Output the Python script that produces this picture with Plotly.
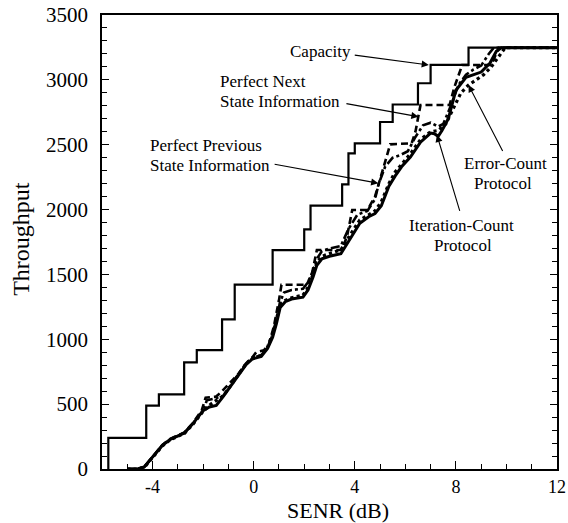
import plotly.graph_objects as go

# ---------------- data ----------------
cap_x = [-5.75, -5.75, -4.25, -3.75, -2.75, -2.25, -1.25, -0.75, 0.75, 2.0, 2.25, 3.5, 3.75, 4.0, 5.0, 5.5, 6.5, 7.0, 8.5, 12]
cap_y = [0, 240, 488, 576, 822, 917, 1154, 1421, 1688, 1848, 2030, 2195, 2434, 2511, 2675, 2810, 2974, 3115, 3248, 3248]

it_x = [-5.0, -4.6, -4.33, -4.0, -3.6, -3.3, -3.0, -2.74, -2.4, -2.0, -1.75, -1.48, -1.2, -0.9, -0.6, -0.3, -0.05, 0.3, 0.55, 0.75, 0.9,
        1.05, 1.25, 1.5, 1.95, 2.15, 2.35, 2.5, 2.7, 3.0, 3.45, 3.8, 4.2, 4.55, 4.8, 5.05, 5.35, 5.6, 5.85, 6.2, 6.6, 7.0, 7.15, 7.3,
        7.45, 7.7, 8.0, 8.4, 8.7, 9.0, 9.35, 9.6, 9.8, 12]
it_y = [0, 0, 15, 90, 185, 228, 252, 278, 350, 450, 478, 490, 560, 640, 725, 805, 848, 868, 930, 1015, 1120,
        1245, 1290, 1310, 1325, 1380, 1480, 1570, 1620, 1640, 1660, 1770, 1895, 1945, 1970, 2030, 2180, 2260, 2330, 2405, 2520, 2590, 2585, 2565,
        2610, 2700, 2920, 3020, 3040, 3060, 3130, 3220, 3248, 3248]

pn_x = [-5.0, -4.6, -4.33, -4.0, -3.6, -3.3, -3.0, -2.74, -2.4, -2.05, -1.9, -1.5, -1.3, -1.0, -0.6, -0.3, -0.05, 0.1, 0.4, 0.6, 0.8, 1.0,
        1.1, 2.1, 2.3, 2.5, 3.5, 3.7, 3.9, 4.5, 4.8, 5.1, 5.4, 6.25, 6.4, 6.6, 7.75, 7.95, 8.25, 9.4, 9.7, 12]
pn_y = [0, 0, 15, 95, 188, 232, 256, 282, 355, 455, 550, 557, 590, 650, 735, 815, 862, 900, 915, 960, 1100, 1300,
        1421, 1421, 1500, 1688, 1688, 1800, 1997, 1997, 2100, 2300, 2503, 2511, 2600, 2806, 2806, 2950, 3115, 3115, 3248, 3248]

pp_x = [-5.0, -4.6, -4.33, -4.0, -3.6, -3.3, -3.0, -2.74, -2.4, -2.0, -1.85, -1.5, -1.2, -0.9, -0.6, -0.3, -0.05, 0.3, 0.55, 0.75, 0.9,
        1.05, 1.2, 1.5, 1.95, 2.15, 2.35, 2.5, 2.7, 3.0, 3.45, 3.75, 4.1, 4.5, 4.8, 4.95, 5.2, 5.5, 5.8, 6.1, 6.4, 6.7, 7.0, 7.3, 7.5,
        7.8, 8.1, 8.4, 8.7, 9.0, 9.3, 9.5, 12]
pp_y = [0, 0, 15, 92, 186, 230, 254, 280, 352, 450, 530, 545, 565, 645, 730, 810, 855, 878, 935, 1035, 1160,
        1290, 1360, 1380, 1390, 1440, 1530, 1620, 1680, 1700, 1720, 1850, 1960, 1990, 2080, 2200, 2330, 2400, 2420, 2450, 2560, 2650, 2670, 2640, 2660,
        2800, 2960, 3040, 3080, 3110, 3200, 3248, 3248]

ec_x = [-5.0, -4.6, -4.33, -4.0, -3.6, -3.3, -3.0, -2.74, -2.4, -2.0, -1.7, -1.48, -1.2, -0.9, -0.6, -0.3, -0.05, 0.3, 0.55, 0.75, 0.9,
        1.05, 1.25, 1.5, 1.95, 2.15, 2.35, 2.5, 2.7, 3.0, 3.45, 3.8, 4.2, 4.55, 4.8, 5.05, 5.35, 5.6, 5.85, 6.2, 6.6, 7.0, 7.3, 7.6,
        7.9, 8.2, 8.5, 8.8, 9.1, 9.4, 9.7, 9.95, 12]
ec_y = [0, 0, 12, 86, 180, 225, 250, 275, 345, 445, 500, 530, 565, 645, 728, 812, 855, 875, 940, 1040, 1150,
        1270, 1300, 1320, 1340, 1400, 1500, 1590, 1640, 1660, 1690, 1800, 1920, 1960, 1990, 2060, 2200, 2290, 2350, 2430, 2540, 2600, 2610, 2660,
        2780, 2900, 2960, 3000, 3040, 3100, 3180, 3248, 3248]

x_tickvals = [-4, 0, 4, 8, 12]
x_ticktext = ["-4", "0", "4", "8", "12"]
y_tickvals = [0, 500, 1000, 1500, 2000, 2500, 3000, 3500]
y_ticktext = [str(v) for v in y_tickvals]

FONT = "Liberation Serif, Times New Roman, serif"
ANN_SIZE = 17

fig = go.Figure()
fig.add_trace(go.Scatter(x=cap_x, y=cap_y, mode="lines", line=dict(color="black", width=2.2, shape="hv"), name="Capacity"))
fig.add_trace(go.Scatter(x=pn_x, y=pn_y, mode="lines", line=dict(color="black", width=2.6, dash="7px,4px"), name="Perfect Next"))
fig.add_trace(go.Scatter(x=pp_x, y=pp_y, mode="lines", line=dict(color="black", width=2.6, dash="dashdot"), name="Perfect Previous"))
fig.add_trace(go.Scatter(x=ec_x, y=ec_y, mode="lines", line=dict(color="black", width=3.2, dash="dot"), name="Error-Count"))
fig.add_trace(go.Scatter(x=it_x, y=it_y, mode="lines", line=dict(color="black", width=3.0), name="Iteration-Count"))

ann = []
def txt(x, y, s, xanchor="left"):
    ann.append(dict(x=x, y=y, xref="x", yref="y", text=s, showarrow=False, xanchor=xanchor, yanchor="middle",
                    font=dict(family=FONT, size=ANN_SIZE, color="black")))

def arrow(tx, ty, hx, hy):
    ann.append(dict(x=hx, y=hy, ax=tx, ay=ty, xref="x", yref="y", axref="x", ayref="y", text="", showarrow=True,
                    arrowhead=2, arrowsize=1.3, arrowwidth=1.1, arrowcolor="black", standoff=0, startstandoff=0))

txt(2.66, 3215, "Capacity", "center")
arrow(3.94, 3192, 6.93, 3115)
txt(-1.41, 2986, "Perfect Next")
txt(-1.41, 2832, "State Information")
arrow(3.61, 2819, 6.52, 2716)
txt(-4.18, 2494, "Perfect Previous")
txt(-4.18, 2340, "State Information")
arrow(0.77, 2351, 4.93, 2203)
txt(9.98, 2352, "Error-Count", "center")
txt(9.88, 2198, "Protocol", "center")
arrow(9.88, 2440, 8.50, 2960)
txt(8.24, 1879, "Iteration-Count", "center")
txt(8.27, 1725, "Protocol", "center")
arrow(8.17, 1978, 7.25, 2575)

# axis titles
ann.append(dict(x=0.518, y=-0.092, xref="paper", yref="paper", text="SENR (dB)", showarrow=False,
                xanchor="center", yanchor="middle", font=dict(family=FONT, size=22, color="black")))
ann.append(dict(x=-0.178, y=0.507, xref="paper", yref="paper", text="Throughput", showarrow=False, textangle=-90,
                xanchor="center", yanchor="middle", font=dict(family=FONT, size=24, color="black")))

fig.update_layout(
    width=568, height=523,
    margin=dict(l=102, r=11, t=15, b=54, autoexpand=False),
    paper_bgcolor="white", plot_bgcolor="white",
    showlegend=False,
    annotations=ann,
    font=dict(family=FONT, color="black"),
)
fig.update_xaxes(range=[-6, 12], tickmode="array", tickvals=x_tickvals, ticktext=x_ticktext,
                 ticks="inside", ticklen=8, tickwidth=1.2, tickcolor="black",
                 minor=dict(tickmode="linear", tick0=-6, dtick=1, ticks="inside", ticklen=5, tickwidth=1.2, tickcolor="black"),
                 showline=True, linecolor="black", linewidth=1.8, mirror=True,
                 showgrid=False, zeroline=False, tickfont=dict(family=FONT, size=18, color="black"),
                 ticklabelstandoff=0)
fig.update_yaxes(range=[0, 3500], tickmode="array", tickvals=y_tickvals, ticktext=y_ticktext,
                 ticks="inside", ticklen=7, tickwidth=1.2, tickcolor="black",
                 minor=dict(tickmode="linear", tick0=0, dtick=100, ticks="inside", ticklen=5, tickwidth=1.2, tickcolor="black"),
                 showline=True, linecolor="black", linewidth=1.8, mirror="ticks",
                 showgrid=False, zeroline=False, tickfont=dict(family=FONT, size=21, color="black"),
                 ticklabelstandoff=8)

fig.write_html("out.html")
